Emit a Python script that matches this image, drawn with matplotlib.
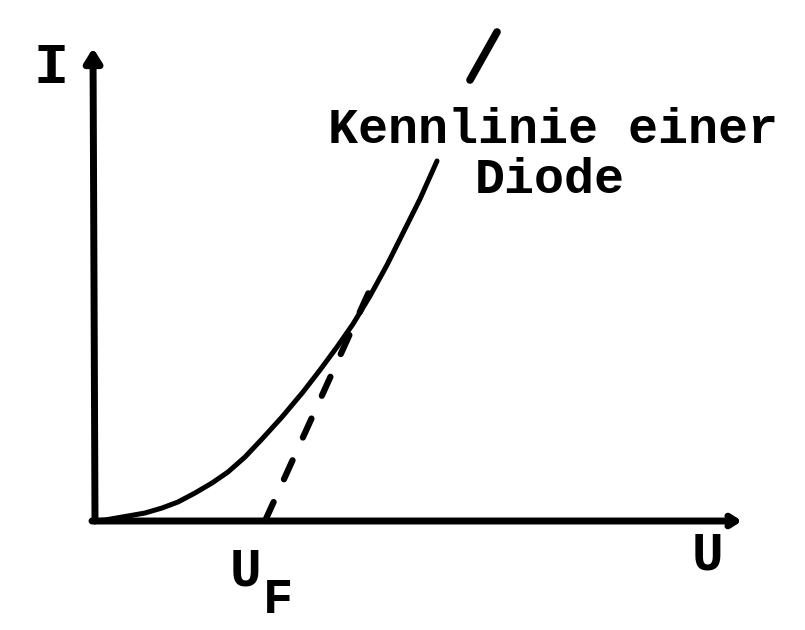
import matplotlib
matplotlib.use("Agg")
import matplotlib.pyplot as plt

plt.rcParams['lines.scale_dashes'] = False

# Diode characteristic (arbitrary units)
U_curve = [0.00, 0.10, 0.33, 0.50, 0.67, 0.83, 1.00, 1.17, 1.33, 1.50, 1.67, 1.87, 2.08, 2.25, 2.42, 2.58, 2.75, 2.92, 3.08, 3.25, 3.42]
I_curve = [0.00, 0.01, 0.05, 0.08, 0.13, 0.19, 0.28, 0.38, 0.49, 0.64, 0.82, 1.04, 1.29, 1.51, 1.74, 1.97, 2.25, 2.56, 2.88, 3.22, 3.60]

# upper continuation of the curve (above the label)
U_upper = [3.75, 4.02]
I_upper = [4.41, 4.89]

# tangent (dashed) giving the threshold voltage U_F
U_tangent = [1.70, 2.78]
I_tangent = [0.00, 2.38]

label_lines = ["Kennlinie einer", "Diode"]

fig = plt.figure(figsize=(8.05, 6.3), dpi=100)
ax = fig.add_axes([0, 0, 1, 1])
ax.set_xlim(-0.95, 7.10)
ax.set_ylim(-1.09, 5.21)
ax.axis('off')

# axes with arrows
ax.annotate('', xy=(-0.02, 4.73), xytext=(0, 0),
            arrowprops=dict(arrowstyle='-|>,head_length=0.8,head_width=0.5',
                            lw=5, color='black', shrinkA=0, shrinkB=0))
ax.annotate('', xy=(6.47, 0.0), xytext=(-0.03, 0),
            arrowprops=dict(arrowstyle='->,head_length=0.55,head_width=0.35',
                            lw=5, color='black', shrinkA=0, shrinkB=0))

ax.plot(U_curve, I_curve, color='black', lw=3.6, solid_capstyle='round',
        solid_joinstyle='round')
ax.plot(U_upper, I_upper, color='black', lw=5.5, solid_capstyle='round')
ax.plot(U_tangent, I_tangent, color='black', lw=4.5,
        dashes=(15, 18), dash_capstyle='round')

font = dict(family='Liberation Mono', weight='bold', color='black')
ax.text(-0.44, 4.53, 'I', fontsize=42, ha='center', va='center', **font)
ax.text(6.12, -0.34, 'U', fontsize=38, ha='center', va='center', **font)
ax.text(1.50, -0.50, 'U', fontsize=38, ha='center', va='center', **font)
ax.text(1.83, -0.79, 'F', fontsize=36, ha='center', va='center', **font)

ax.text(2.33, 3.78, label_lines[0], fontsize=36, ha='left', va='baseline', **font)
ax.text(3.80, 3.28, label_lines[1], fontsize=36, ha='left', va='baseline', **font)

fig.savefig('out.png', dpi=100)
